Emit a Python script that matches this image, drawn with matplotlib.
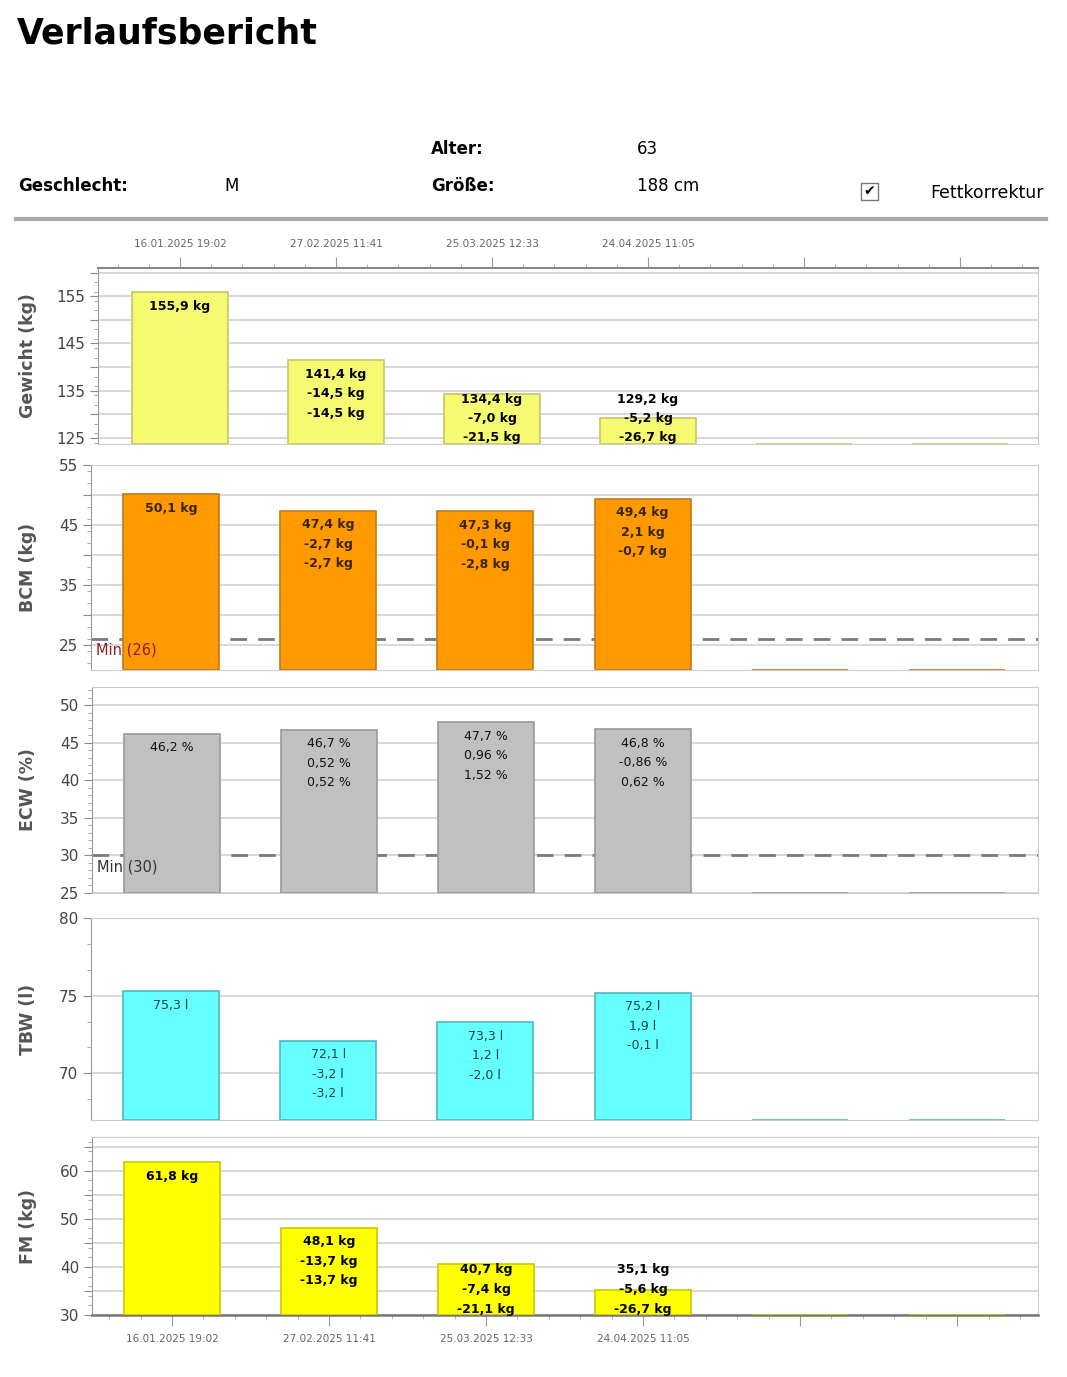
import numpy as np
import matplotlib
matplotlib.use('Agg')
import matplotlib.pyplot as plt
import matplotlib.ticker as mticker
import matplotlib.transforms as mtransforms
from matplotlib.patches import Rectangle

# Messdaten
dates = ['16.01.2025 19:02', '27.02.2025 11:41', '25.03.2025 12:33', '24.04.2025 11:05']
n_slots = 6

gewicht = [155.9, 141.4, 134.4, 129.2]
gewicht_diff = [None, -14.5, -7.0, -5.2]
gewicht_total = [None, -14.5, -21.5, -26.7]

bcm = [50.1, 47.4, 47.3, 49.4]
bcm_diff = [None, -2.7, -0.1, 2.1]
bcm_total = [None, -2.7, -2.8, -0.7]

ecw = [46.2, 46.7, 47.7, 46.8]
ecw_diff = [None, 0.52, 0.96, -0.86]
ecw_total = [None, 0.52, 1.52, 0.62]

tbw = [75.3, 72.1, 73.3, 75.2]
tbw_diff = [None, -3.2, 1.2, 1.9]
tbw_total = [None, -3.2, -2.0, -0.1]

fm = [61.8, 48.1, 40.7, 35.1]
fm_diff = [None, -13.7, -7.4, -5.6]
fm_total = [None, -13.7, -21.1, -26.7]

W, H = 1067, 1377
fig = plt.figure(figsize=(W / 100, H / 100), dpi=100)
fig.patch.set_facecolor('white')

def fx(px):
    return px / W

def fy(py):
    return 1 - py / H

# Kopfbereich
fig.text(fx(17), fy(33), 'Verlaufsbericht', fontsize=25, fontweight='bold',
         va='center', ha='left')
fig.text(fx(431), fy(149), 'Alter:', fontsize=12, fontweight='bold', va='center')
fig.text(fx(637), fy(149), '63', fontsize=12, va='center')
fig.text(fx(18), fy(186), 'Geschlecht:', fontsize=12, fontweight='bold', va='center')
fig.text(fx(224), fy(186), 'M', fontsize=12, va='center')
fig.text(fx(431), fy(186), 'Größe:', fontsize=12, fontweight='bold', va='center')
fig.text(fx(637), fy(186), '188 cm', fontsize=12, va='center')
fig.patches.append(Rectangle((fx(861), fy(200)), 17 / W, 17 / H, transform=fig.transFigure,
                             facecolor='white', edgecolor='#777777', lw=1))
fig.text(fx(869.5), fy(191.5), '✔', fontsize=10, ha='center', va='center')
fig.text(fx(930), fy(193), 'Fettkorrektur', fontsize=12.5, va='center')
fig.lines.append(plt.Line2D([fx(16), fx(1046)], [fy(219), fy(219)], transform=fig.transFigure,
                            color='#aaaaaa', lw=3))

panels = [
    dict(label='Gewicht (kg)', vals=gewicht, diff=gewicht_diff, total=gewicht_total, unit='kg',
         dec=1, ddec=1, color='#f5fa70', edge='#c5c56a', tcol='black', tw='bold',
         rect=(98, 268, 1038, 444), ylim=(123.7, 161), ticks=np.arange(125, 160, 10), minor=2,
         xlim=(-0.526, 5.5), minval=None),
    dict(label='BCM (kg)', vals=bcm, diff=bcm_diff, total=bcm_total, unit='kg',
         dec=1, ddec=1, color='#ff9900', edge='#c07a20', tcol='#3a2408', tw='bold',
         rect=(91, 465, 1038, 670), ylim=(20.8, 55), ticks=np.arange(25, 60, 10), minor=2,
         xlim=(-0.509, 5.515), minval=26, mincol='#8b2020'),
    dict(label='ECW (%)', vals=ecw, diff=ecw_diff, total=ecw_total, unit='%',
         dec=1, ddec=2, color='#c0c0c0', edge='#999999', tcol='#111111', tw='normal',
         rect=(92, 687, 1038, 893), ylim=(25, 52.4), ticks=np.arange(25, 55, 5), minor=1,
         xlim=(-0.509, 5.515), minval=30, mincol='#333333'),
    dict(label='TBW (l)', vals=tbw, diff=tbw_diff, total=tbw_total, unit='l',
         dec=1, ddec=1, color='#66ffff', edge='#4fb8c0', tcol='#1a4545', tw='normal',
         rect=(91, 918, 1038, 1120), ylim=(67, 80), ticks=np.arange(70, 85, 5), minor=5 / 3,
         xlim=(-0.509, 5.515), minval=None),
    dict(label='FM (kg)', vals=fm, diff=fm_diff, total=fm_total, unit='kg',
         dec=1, ddec=1, color='#ffff00', edge='#c8c800', tcol='black', tw='bold',
         rect=(92, 1137, 1038, 1315), ylim=(30, 67), ticks=np.arange(30, 70, 10), minor=2,
         xlim=(-0.509, 5.515), minval=None),
]


def fmt(v, dec, unit):
    s = f'{v:.{dec}f}'.replace('.', ',')
    return f'{s} {unit}'


x = np.arange(n_slots)
for i, p in enumerate(panels):
    left, top, right, bottom = p['rect']
    ax = fig.add_axes([fx(left), fy(bottom), (right - left) / W, (bottom - top) / H])
    ymin, ymax = p['ylim']
    ax.set_xlim(*p['xlim'])
    ax.set_ylim(ymin, ymax)

    vals = p['vals'] + [ymin] * (n_slots - len(p['vals']))
    heights = [v - ymin for v in vals]
    ax.bar(x, heights, bottom=ymin, width=0.61, color=p['color'], edgecolor=p['edge'],
           linewidth=1.2, zorder=3)

    # Raster
    ax.yaxis.set_major_locator(mticker.MultipleLocator(5))
    lab = set(np.round(p['ticks'], 3))
    ax.yaxis.set_major_formatter(mticker.FuncFormatter(
        lambda v, pos, lab=lab: f'{v:.0f}' if round(v, 3) in lab else ''))
    ax.yaxis.set_minor_locator(mticker.MultipleLocator(p['minor']))
    ax.grid(axis='y', which='major', color='#d9d9d9', lw=1.5, zorder=0)
    ax.tick_params(axis='y', which='major', length=6, color='#888888', labelsize=11,
                   labelcolor='#444444', pad=3)
    ax.tick_params(axis='y', which='minor', length=3, color='#999999')

    for s in ['right', 'top']:
        ax.spines[s].set_color('#cccccc')
    ax.spines['left'].set_color('#999999')
    ax.spines['bottom'].set_color('#cccccc')

    if p['minval'] is not None:
        ax.axhline(p['minval'], color='#7a7a7a', lw=2, dashes=(6, 4), zorder=2)
        ax.text(-0.48, p['minval'], f'Min ({p["minval"]})', color=p['mincol'], fontsize=10.5,
                va='top', ha='left', zorder=5,
                transform=mtransforms.offset_copy(ax.transData, fig=fig, y=-3, units='points'))

    # X-Achse
    if i == 0:
        ax.xaxis.tick_top()
        ax.spines['top'].set_color('#888888')
        ax.spines['top'].set_linewidth(1.5)
    elif i == len(panels) - 1:
        ax.spines['bottom'].set_color('#777777')
        ax.spines['bottom'].set_linewidth(1.8)
    if i in (0, len(panels) - 1):
        ax.set_xticks(x)
        ax.set_xticklabels(dates + [''] * (n_slots - len(dates)))
        ax.xaxis.set_minor_locator(mticker.MultipleLocator(0.2))
        ax.tick_params(axis='x', which='major', length=8, color='#999999', labelsize=7.5,
                       labelcolor='#666666', pad=6)
        ax.tick_params(axis='x', which='minor', length=3, color='#aaaaaa')
    else:
        ax.set_xticks([])

    fig.text(fx(28), fy((top + bottom) / 2), p['label'], rotation=90, ha='center', va='center',
             fontsize=12.5, fontweight='bold', color='#555555')

    # Beschriftung der Balken
    hpx = bottom - top
    trans = mtransforms.blended_transform_factory(ax.transData, ax.transAxes)
    for k, v in enumerate(p['vals']):
        lines = [fmt(v, p['dec'], p['unit'])]
        if p['diff'][k] is not None:
            lines.append(fmt(p['diff'][k], p['ddec'], p['unit']))
            lines.append(fmt(p['total'][k], p['ddec'], p['unit']))
        y0 = (v - ymin) / (ymax - ymin) - 14 / hpx
        y0 = max(y0, (6 + 19.5 * (len(lines) - 1)) / hpx)
        for j, t in enumerate(lines):
            ax.text(k, y0 - j * 19.5 / hpx, t, transform=trans, ha='center', va='center',
                    fontsize=9, fontweight=p['tw'], color=p['tcol'], zorder=6, clip_on=False)

fig.savefig('out.png', dpi=100)
